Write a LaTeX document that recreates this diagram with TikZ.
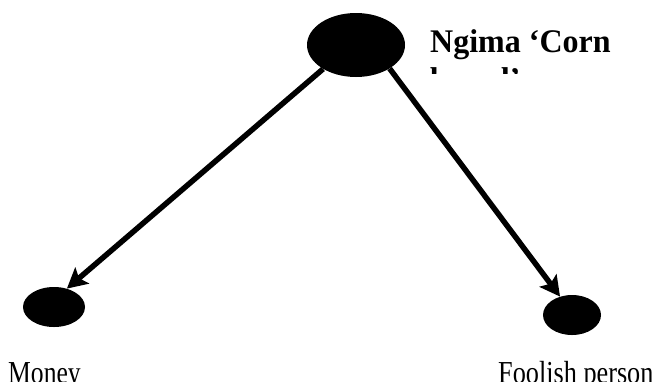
\documentclass[tikz,border=0pt]{standalone}
\usepackage{fontspec}
\setmainfont{Liberation Serif}
\usetikzlibrary{shapes.geometric,arrows.meta}

\begin{document}
\begin{tikzpicture}[x=1pt,y=-1pt,
  blob/.style={ellipse,fill=black,draw=none,inner sep=0pt},
  link/.style={line width=5.5pt,-{Stealth[length=20pt,width=21pt,inset=4pt]}},
  word/.style={inner sep=0pt,anchor=base west,font=\fontsize{32}{36}\selectfont}]
\useasboundingbox (0,0) rectangle (660,381);
\clip (0,0) rectangle (660,381);
\node[blob,minimum width=98pt,minimum height=64pt] (ngima) at (356,45) {};
\node[blob,minimum width=62pt,minimum height=40pt] (money) at (54,307) {};
\node[blob,minimum width=58pt,minimum height=40pt] (fool) at (572,315) {};
\draw[link] (ngima.-144.5) -- (money.55.6);
\draw[link] (ngima.-35.7) -- (fool.123.7);
\begin{scope}
\clip (420,0) rectangle (660,73);
\node[inner sep=0pt,anchor=base west,align=left,font=\bfseries\fontsize{33}{38}\selectfont] (corn) at (430,90) {\scalebox{0.97}[1]{Ngima ‘Corn}\\\scalebox{0.97}[1]{bread’}};
\end{scope}
\node[word] (moneytxt) at (8,383) {\scalebox{0.8}[1]{Money}};
\node[word] (fooltxt) at (498,383) {\scalebox{0.82}[1]{Foolish person}};
\end{tikzpicture}
\end{document}
